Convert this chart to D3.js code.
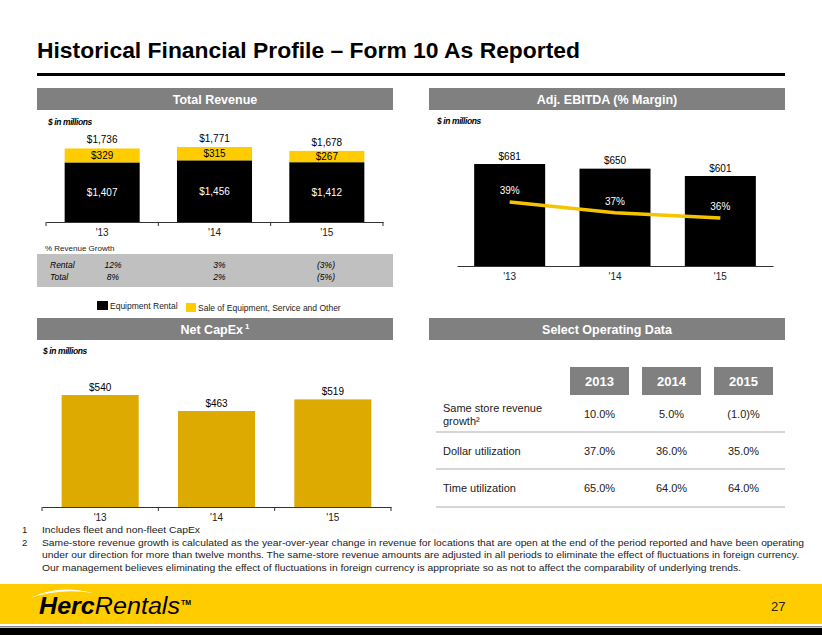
<!DOCTYPE html>
<html>
<head>
<meta charset="utf-8">
<script src="https://cdn.jsdelivr.net/npm/d3@7"></script>
<style>
  html, body { margin: 0; padding: 0; background: #fff; }
  svg { display: block; font-family: "Liberation Sans", Arial, sans-serif; }
</style>
</head>
<body>
<svg id="chart" width="822" height="635"></svg>
<script>
// ---------------- DATA ----------------
const years = ["'13", "'14", "'15"];
const rentalRevenue = [1407, 1456, 1412];
const otherRevenue = [329, 315, 267];
const totalRevenue = [1736, 1771, 1678];
const rentalGrowth = ["12%", "3%", "(3%)"];
const totalGrowth = ["8%", "2%", "(5%)"];
const ebitda = [681, 650, 601];
const ebitdaMargin = [39, 37, 36];
const netCapex = [540, 463, 519];
const tableYears = ["2013", "2014", "2015"];
const tableRows = [
  { label: ["Same store revenue", "growth²"], values: ["10.0%", "5.0%", "(1.0)%"] },
  { label: ["Dollar utilization"], values: ["37.0%", "36.0%", "35.0%"] },
  { label: ["Time utilization"], values: ["65.0%", "64.0%", "64.0%"] }
];
const footnotes = [
  ["1", "Includes fleet and non-fleet CapEx"],
  ["2", "Same-store revenue growth is calculated as the year-over-year change in revenue for locations that are open at the end of the period reported and have been operating"],
  ["", "under our direction for more than twelve months. The same-store revenue amounts are adjusted in all periods to eliminate the effect of fluctuations in foreign currency."],
  ["", "Our management believes eliminating the effect of fluctuations in foreign currency is appropriate so as not to affect the comparability of underlying trends."]
];

const YELLOW = "#ffcc00", GOLD = "#dcaa00", GRAY = "#808080";
const svg = d3.select("#chart");
const fmt = v => "$" + d3.format(",")(v);

// ---------------- TITLE ----------------
svg.append("text").attr("x", 37).attr("y", 58)
  .attr("font-size", 22.5).attr("font-weight", "bold").attr("fill", "#000")
  .attr("textLength", 543).attr("lengthAdjust", "spacingAndGlyphs")
  .text("Historical Financial Profile – Form 10 As Reported");
svg.append("rect").attr("x", 37).attr("y", 73).attr("width", 748).attr("height", 3).attr("fill", "#000");

// ---------------- SECTION HEADERS ----------------
function header(x, y, w, label, sup) {
  svg.append("rect").attr("x", x).attr("y", y).attr("width", w).attr("height", 22).attr("fill", GRAY);
  const t = svg.append("text").attr("x", x + w / 2).attr("y", y + 15.5)
    .attr("text-anchor", "middle").attr("font-size", 12.5).attr("font-weight", "bold").attr("fill", "#fff")
    .text(label);
  if (sup) t.append("tspan").attr("font-size", 8).attr("dy", -5).attr("dx", 2).text(sup);
}
header(37, 88, 356, "Total Revenue");
header(429, 88, 356, "Adj. EBITDA (% Margin)");
header(37, 318, 356, "Net CapEx", "1");
header(429, 318, 356, "Select Operating Data");

function unitLabel(x, y) {
  svg.append("text").attr("x", x).attr("y", y).attr("font-size", 8.5)
    .attr("font-weight", "bold").attr("font-style", "italic").attr("letter-spacing", -0.4)
    .text("$ in millions");
}
unitLabel(48, 125);
unitLabel(437, 124);
unitLabel(43, 354);

function bottomAxis(g, x, y0, withTicks) {
  const ax = g.append("g").attr("transform", `translate(0,${y0})`)
    .call(d3.axisBottom(x).tickSize(0).tickPadding(0).tickFormat(""));
  ax.select(".domain").attr("stroke", "#333").attr("stroke-width", 1);
  if (withTicks) {
    const r = x.range();
    const b = d3.range(years.length + 1).map(i => r[0] + i * x.step());
    g.selectAll(null).data(b).enter().append("line")
      .attr("x1", d => d).attr("x2", d => d).attr("y1", y0).attr("y2", y0 + 4)
      .attr("stroke", "#333").attr("stroke-width", 1);
  }
  g.selectAll(null).data(years).enter().append("text")
    .attr("x", d => x(d) + x.bandwidth() / 2).attr("y", y0 + 14)
    .attr("text-anchor", "middle").attr("font-size", 10).attr("fill", "#222").text(d => d);
}

// ---------------- TOTAL REVENUE ----------------
{
  const g = svg.append("g");
  const base = 222;
  const x = d3.scaleBand().domain(years).range([46, 383]).paddingInner(0.332).paddingOuter(0.166);
  const y = d3.scaleLinear().domain([0, 2000]).range([base, base - 84.7]);
  const data = years.map((d, i) => ({ yr: d, r: rentalRevenue[i], o: otherRevenue[i], t: totalRevenue[i] }));
  g.selectAll(".rb").data(data).enter().append("rect")
    .attr("x", d => x(d.yr)).attr("width", x.bandwidth())
    .attr("y", d => y(d.r)).attr("height", d => y(0) - y(d.r)).attr("fill", "#000");
  g.selectAll(".ob").data(data).enter().append("rect")
    .attr("x", d => x(d.yr)).attr("width", x.bandwidth())
    .attr("y", d => y(d.r + d.o)).attr("height", d => y(d.r) - y(d.r + d.o)).attr("fill", YELLOW);
  g.selectAll(".rl").data(data).enter().append("text")
    .attr("x", d => x(d.yr) + x.bandwidth() / 2).attr("y", d => (y(d.r) + y(0)) / 2 + 3.5)
    .attr("text-anchor", "middle").attr("font-size", 10).attr("fill", "#fff").text(d => fmt(d.r));
  g.selectAll(".ol").data(data).enter().append("text")
    .attr("x", d => x(d.yr) + x.bandwidth() / 2).attr("y", d => (y(d.r) + y(d.r + d.o)) / 2 + 3.5)
    .attr("text-anchor", "middle").attr("font-size", 10).attr("fill", "#000").text(d => fmt(d.o));
  g.selectAll(".tl").data(data).enter().append("text")
    .attr("x", d => x(d.yr) + x.bandwidth() / 2).attr("y", d => y(d.t) - 5)
    .attr("text-anchor", "middle").attr("font-size", 10).attr("fill", "#000").text(d => fmt(d.t));
  bottomAxis(g, x, base, true);

  // growth table
  g.append("text").attr("x", 45).attr("y", 251).attr("font-size", 8).attr("fill", "#222").text("% Revenue Growth");
  g.append("rect").attr("x", 37).attr("y", 254).attr("width", 356).attr("height", 33).attr("fill", "#c0c0c0");
  const gx = d3.scalePoint().domain(years).range([113, 326]);
  [["Rental", rentalGrowth, 268], ["Total", totalGrowth, 280]].forEach(([lab, vals, yy]) => {
    g.append("text").attr("x", 50).attr("y", yy).attr("font-size", 8.5).attr("font-style", "italic").text(lab);
    g.selectAll(null).data(vals).enter().append("text")
      .attr("x", (d, i) => gx(years[i])).attr("y", yy)
      .attr("text-anchor", "middle").attr("font-size", 8.5).attr("font-style", "italic").text(d => d);
  });

  // legend
  g.append("rect").attr("x", 97).attr("y", 301).attr("width", 11).attr("height", 9).attr("fill", "#000");
  g.append("text").attr("x", 110).attr("y", 309).attr("font-size", 8.5).attr("fill", "#222").text("Equipment Rental");
  g.append("rect").attr("x", 186).attr("y", 303).attr("width", 10).attr("height", 9).attr("fill", YELLOW);
  g.append("text").attr("x", 198).attr("y", 311).attr("font-size", 8.5).attr("fill", "#222").text("Sale of Equipment, Service and Other");
}

// ---------------- ADJ. EBITDA ----------------
{
  const g = svg.append("g");
  const base = 266;
  const x = d3.scaleBand().domain(years).range([457, 773]).paddingInner(0.326).paddingOuter(0.163);
  const y = d3.scaleLinear().domain([0, 800]).range([base, base - 119.8]);
  const ym = d3.scaleLinear().domain([30, 45]).range([250, 170]);
  const data = years.map((d, i) => ({ yr: d, v: ebitda[i], m: ebitdaMargin[i] }));
  g.selectAll(".b").data(data).enter().append("rect")
    .attr("x", d => x(d.yr)).attr("width", x.bandwidth())
    .attr("y", d => y(d.v)).attr("height", d => y(0) - y(d.v)).attr("fill", "#000");
  g.selectAll(".vl").data(data).enter().append("text")
    .attr("x", d => x(d.yr) + x.bandwidth() / 2).attr("y", d => y(d.v) - 4.5)
    .attr("text-anchor", "middle").attr("font-size", 10).attr("fill", "#000").text(d => fmt(d.v));
  const line = d3.line().x(d => x(d.yr) + x.bandwidth() / 2).y(d => ym(d.m));
  g.append("path").datum(data).attr("d", line).attr("fill", "none")
    .attr("stroke", "#f5c400").attr("stroke-width", 3.5);
  g.selectAll(".ml").data(data).enter().append("text")
    .attr("x", d => x(d.yr) + x.bandwidth() / 2).attr("y", d => ym(d.m) - 8)
    .attr("text-anchor", "middle").attr("font-size", 10).attr("fill", "#fff").text(d => d.m + "%");
  bottomAxis(g, x, base, false);
}

// ---------------- NET CAPEX ----------------
{
  const g = svg.append("g");
  const base = 507;
  const x = d3.scaleBand().domain(years).range([42, 391]).paddingInner(0.338).paddingOuter(0.169);
  const y = d3.scaleLinear().domain([0, 600]).range([base, base - 124.4]);
  const data = years.map((d, i) => ({ yr: d, v: netCapex[i] }));
  g.selectAll(".b").data(data).enter().append("rect")
    .attr("x", d => x(d.yr)).attr("width", x.bandwidth())
    .attr("y", d => y(d.v)).attr("height", d => y(0) - y(d.v)).attr("fill", GOLD);
  g.selectAll(".vl").data(data).enter().append("text")
    .attr("x", d => x(d.yr) + x.bandwidth() / 2).attr("y", d => y(d.v) - 4.5)
    .attr("text-anchor", "middle").attr("font-size", 10).attr("fill", "#000").text(d => fmt(d.v));
  bottomAxis(g, x, base, true);
}

// ---------------- SELECT OPERATING DATA ----------------
{
  const g = svg.append("g");
  const cx = d3.scalePoint().domain(tableYears).range([599.5, 743.5]);
  g.selectAll(".yb").data(tableYears).enter().append("rect")
    .attr("x", d => cx(d) - 29.5).attr("y", 367).attr("width", 59).attr("height", 28).attr("fill", GRAY);
  g.selectAll(".yt").data(tableYears).enter().append("text")
    .attr("x", d => cx(d)).attr("y", 386).attr("text-anchor", "middle")
    .attr("font-size", 13).attr("font-weight", "bold").attr("fill", "#fff").text(d => d);
  const rowY = [414, 451, 488];
  const sepY = [432, 469, 507];
  tableRows.forEach((row, i) => {
    if (row.label.length === 2) {
      const t = g.append("text").attr("x", 443).attr("y", rowY[i] - 2).attr("font-size", 11).attr("fill", "#222");
      t.append("tspan").attr("x", 443).attr("dy", 0).text(row.label[0]);
      t.append("tspan").attr("x", 443).attr("dy", 13).text(row.label[1]);
    } else {
      g.append("text").attr("x", 443).attr("y", rowY[i] + 4).attr("font-size", 11).attr("fill", "#222").text(row.label[0]);
    }
    g.selectAll(null).data(row.values).enter().append("text")
      .attr("x", (d, j) => cx(tableYears[j])).attr("y", rowY[i] + 4)
      .attr("text-anchor", "middle").attr("font-size", 11).attr("fill", "#222").text(d => d);
    g.append("line").attr("x1", 436).attr("x2", 785).attr("y1", sepY[i]).attr("y2", sepY[i])
      .attr("stroke", "#c8c8c8").attr("stroke-width", 1.5);
  });
}

// ---------------- FOOTNOTES ----------------
footnotes.forEach(([n, txt], i) => {
  const yy = 533 + i * 12.7;
  if (n) svg.append("text").attr("x", 22).attr("y", yy).attr("font-size", 9.5).attr("fill", "#222").text(n);
  const t = svg.append("text").attr("x", 42).attr("y", yy).attr("font-size", 9.5).attr("fill", "#222").text(txt);
  if (i === 1) t.attr("textLength", 762).attr("lengthAdjust", "spacingAndGlyphs");
  if (i === 2) t.attr("textLength", 757).attr("lengthAdjust", "spacingAndGlyphs");
  if (i === 3) t.attr("textLength", 699).attr("lengthAdjust", "spacingAndGlyphs");
  if (i === 0) t.attr("textLength", 158).attr("lengthAdjust", "spacingAndGlyphs");
});

// ---------------- FOOTER ----------------
svg.append("rect").attr("x", 0).attr("y", 584).attr("width", 822).attr("height", 40).attr("fill", YELLOW);
svg.append("rect").attr("x", 0).attr("y", 626).attr("width", 822).attr("height", 1.5).attr("fill", "#888");
svg.append("rect").attr("x", 0).attr("y", 628).attr("width", 822).attr("height", 7).attr("fill", "#000");
svg.append("path").attr("d", "M30,598 Q58,584 93,593 Q60,588 30,598 Z").attr("fill", "#fff");
const logo = svg.append("text").attr("x", 39).attr("y", 614).attr("font-size", 23).attr("font-style", "italic")
  .attr("textLength", 141).attr("lengthAdjust", "spacingAndGlyphs");
logo.append("tspan").attr("font-weight", "bold").text("Herc");
logo.append("tspan").text("Rentals");
svg.append("text").attr("x", 181).attr("y", 605).attr("font-size", 7).attr("font-weight", "bold").text("TM");
svg.append("text").attr("x", 771).attr("y", 611).attr("font-size", 13).attr("fill", "#222").text("27");
</script>
</body>
</html>
